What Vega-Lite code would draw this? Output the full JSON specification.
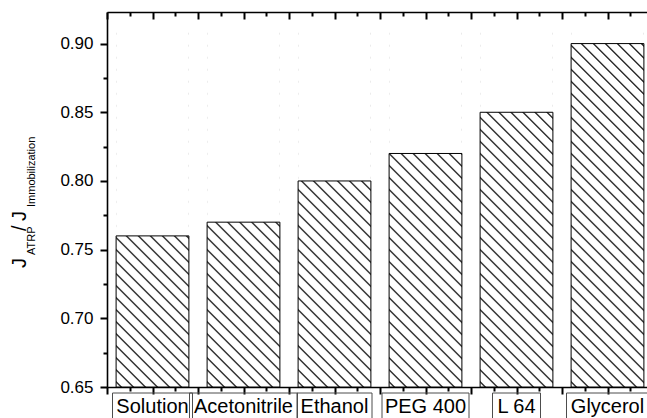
{
  "$schema": "https://vega.github.io/schema/vega-lite/v6.json",
  "autosize": {"type": "none"},
  "width": 540,
  "height": 375,
  "padding": {"left": 107, "top": 12, "right": 0, "bottom": 31},
  "background": "white",
  "config": {"view": {"stroke": null}, "font": "Liberation Sans", "axis": {"ticks": true, "tickColor": "#000", "tickWidth": 2, "tickOpacity": 1, "domainColor": "#000", "domainWidth": 1.6, "zindex": 1, "grid": false, "title": null}},
  "data": {"values": [
    {"solvent": "Solution", "value": 0.76},
    {"solvent": "Acetonitrile", "value": 0.77},
    {"solvent": "Ethanol", "value": 0.80},
    {"solvent": "PEG 400", "value": 0.82},
    {"solvent": "L 64", "value": 0.85},
    {"solvent": "Glycerol", "value": 0.90}
  ]},
  "layer": [
    {
      "layer": [
        {
          "mark": {"type": "bar", "strokeWidth": 0, "fill": {"gradient": "linear", "x1": 0, "y1": 1, "x2": 0.23077, "y2": -0.15385, "stops": [
            {"offset": 0.0081, "color": "#fff"}, {"offset": 0.012, "color": "#000"}, {"offset": 0.0159, "color": "#fff"},
            {"offset": 0.0356, "color": "#fff"}, {"offset": 0.0395, "color": "#000"}, {"offset": 0.0434, "color": "#fff"},
            {"offset": 0.0631, "color": "#fff"}, {"offset": 0.067, "color": "#000"}, {"offset": 0.0709, "color": "#fff"},
            {"offset": 0.0906, "color": "#fff"}, {"offset": 0.0945, "color": "#000"}, {"offset": 0.0984, "color": "#fff"},
            {"offset": 0.1181, "color": "#fff"}, {"offset": 0.122, "color": "#000"}, {"offset": 0.1259, "color": "#fff"},
            {"offset": 0.1456, "color": "#fff"}, {"offset": 0.1495, "color": "#000"}, {"offset": 0.1534, "color": "#fff"},
            {"offset": 0.1731, "color": "#fff"}, {"offset": 0.177, "color": "#000"}, {"offset": 0.1809, "color": "#fff"},
            {"offset": 0.2006, "color": "#fff"}, {"offset": 0.2045, "color": "#000"}, {"offset": 0.2084, "color": "#fff"},
            {"offset": 0.2281, "color": "#fff"}, {"offset": 0.232, "color": "#000"}, {"offset": 0.2359, "color": "#fff"},
            {"offset": 0.2556, "color": "#fff"}, {"offset": 0.2595, "color": "#000"}, {"offset": 0.2634, "color": "#fff"},
            {"offset": 0.2831, "color": "#fff"}, {"offset": 0.287, "color": "#000"}, {"offset": 0.2909, "color": "#fff"},
            {"offset": 0.3106, "color": "#fff"}, {"offset": 0.3145, "color": "#000"}, {"offset": 0.3184, "color": "#fff"},
            {"offset": 0.3381, "color": "#fff"}, {"offset": 0.342, "color": "#000"}, {"offset": 0.3459, "color": "#fff"},
            {"offset": 0.3656, "color": "#fff"}, {"offset": 0.3695, "color": "#000"}, {"offset": 0.3734, "color": "#fff"},
            {"offset": 0.3931, "color": "#fff"}, {"offset": 0.397, "color": "#000"}, {"offset": 0.4009, "color": "#fff"},
            {"offset": 0.4206, "color": "#fff"}, {"offset": 0.4245, "color": "#000"}, {"offset": 0.4284, "color": "#fff"},
            {"offset": 0.4481, "color": "#fff"}, {"offset": 0.452, "color": "#000"}, {"offset": 0.4559, "color": "#fff"},
            {"offset": 0.4756, "color": "#fff"}, {"offset": 0.4795, "color": "#000"}, {"offset": 0.4834, "color": "#fff"},
            {"offset": 0.5031, "color": "#fff"}, {"offset": 0.507, "color": "#000"}, {"offset": 0.5109, "color": "#fff"},
            {"offset": 0.5306, "color": "#fff"}, {"offset": 0.5345, "color": "#000"}, {"offset": 0.5384, "color": "#fff"},
            {"offset": 0.5581, "color": "#fff"}, {"offset": 0.562, "color": "#000"}, {"offset": 0.5659, "color": "#fff"},
            {"offset": 0.5856, "color": "#fff"}, {"offset": 0.5895, "color": "#000"}, {"offset": 0.5934, "color": "#fff"},
            {"offset": 0.6131, "color": "#fff"}, {"offset": 0.617, "color": "#000"}, {"offset": 0.6209, "color": "#fff"},
            {"offset": 0.6406, "color": "#fff"}, {"offset": 0.6445, "color": "#000"}, {"offset": 0.6484, "color": "#fff"},
            {"offset": 0.6681, "color": "#fff"}, {"offset": 0.672, "color": "#000"}, {"offset": 0.6759, "color": "#fff"},
            {"offset": 0.6956, "color": "#fff"}, {"offset": 0.6995, "color": "#000"}, {"offset": 0.7034, "color": "#fff"},
            {"offset": 0.7231, "color": "#fff"}, {"offset": 0.727, "color": "#000"}, {"offset": 0.7309, "color": "#fff"},
            {"offset": 0.7506, "color": "#fff"}, {"offset": 0.7545, "color": "#000"}, {"offset": 0.7584, "color": "#fff"},
            {"offset": 0.7781, "color": "#fff"}, {"offset": 0.782, "color": "#000"}, {"offset": 0.7859, "color": "#fff"},
            {"offset": 0.8056, "color": "#fff"}, {"offset": 0.8095, "color": "#000"}, {"offset": 0.8134, "color": "#fff"},
            {"offset": 0.8331, "color": "#fff"}, {"offset": 0.837, "color": "#000"}, {"offset": 0.8409, "color": "#fff"},
            {"offset": 0.8606, "color": "#fff"}, {"offset": 0.8645, "color": "#000"}, {"offset": 0.8684, "color": "#fff"},
            {"offset": 0.8881, "color": "#fff"}, {"offset": 0.892, "color": "#000"}, {"offset": 0.8959, "color": "#fff"},
            {"offset": 0.9156, "color": "#fff"}, {"offset": 0.9195, "color": "#000"}, {"offset": 0.9234, "color": "#fff"},
            {"offset": 0.9431, "color": "#fff"}, {"offset": 0.947, "color": "#000"}, {"offset": 0.9509, "color": "#fff"},
            {"offset": 0.9706, "color": "#fff"}, {"offset": 0.9745, "color": "#000"}, {"offset": 0.9784, "color": "#fff"}
          ]}},
          "encoding": {
            "x": {"field": "solvent", "type": "nominal", "sort": null, "scale": {"type": "band", "paddingInner": 0.2, "paddingOuter": 0.1, "range": [0, 546]}, "axis": null},
            "y": {"datum": 0.915, "type": "quantitative", "title": null, "scale": {"domain": [0.65, 0.923], "nice": false, "zero": false}},
            "y2": {"datum": 0.65}
          }
        },
        {
          "mark": {"type": "bar", "fill": "white", "strokeWidth": 0},
          "encoding": {
            "x": {"field": "solvent", "type": "nominal", "sort": null, "scale": {"type": "band", "paddingInner": 0.2, "paddingOuter": 0.1, "range": [0, 546]}, "axis": null},
            "y": {"field": "value", "type": "quantitative", "title": null},
            "y2": {"datum": 0.915}
          }
        },
        {
          "mark": {"type": "bar", "fill": "white", "fillOpacity": 0, "stroke": "#000", "strokeWidth": 1},
          "encoding": {
            "x": {"field": "solvent", "type": "nominal", "sort": null, "scale": {"type": "band", "paddingInner": 0.2, "paddingOuter": 0.1, "range": [0, 546]}, "axis": null},
            "y": {"field": "value", "type": "quantitative", "title": null,
              "axis": {"orient": "left", "title": null,
                "values": [0.65, 0.7, 0.75, 0.8, 0.85, 0.9],
                "format": ".2f",
                "tickSize": 7,
                "labelFontSize": 17, "labelFont": "Liberation Sans", "labelColor": "#000", "labelPadding": 7}},
            "y2": {"datum": 0.65}
          }
        },
        {
          "transform": [
            {"calculate": "11*length(datum.solvent) - 6*(length(datum.solvent) - length(replace(datum.solvent, regexp('[ilt ]', 'g'), ''))) - 4*(length(datum.solvent) - length(replace(datum.solvent, regexp('r', 'g'), ''))) + 3*(length(datum.solvent) - length(replace(datum.solvent, regexp('[A-Z]', 'g'), ''))) + 7", "as": "boxw"}
          ],
          "mark": {"type": "bar", "orient": "vertical", "y": {"expr": "height + 6"}, "y2": {"expr": "height + 45"}, "fill": "white", "fillOpacity": 0, "stroke": "#4d4d4d", "strokeWidth": 1},
          "encoding": {
            "x": {"field": "solvent", "type": "nominal", "sort": null, "scale": {"type": "band", "paddingInner": 0.2, "paddingOuter": 0.1, "range": [0, 546]}, "axis": null},
            "size": {"field": "boxw", "type": "quantitative", "scale": null, "legend": null}
          }
        },
        {
          "mark": {"type": "text", "y": {"expr": "height + 26"}, "fontSize": 20, "font": "Liberation Sans", "align": "center", "baseline": "alphabetic", "color": "#000"},
          "encoding": {
            "x": {"field": "solvent", "type": "nominal", "sort": null, "scale": {"type": "band", "paddingInner": 0.2, "paddingOuter": 0.1, "range": [0, 546]}, "axis": null},
            "text": {"field": "solvent"}
          }
        }
      ]
    },
    {
      "mark": {"type": "rule", "opacity": 0},
      "encoding": {
        "y": {"datum": 0.7, "type": "quantitative", "title": null,
          "scale": {"domain": [0.65, 0.923], "nice": false, "zero": false},
          "axis": {"orient": "left", "title": null, "labels": false, "domain": false,
            "values": [0.675, 0.725, 0.775, 0.825, 0.875],
            "tickSize": 4}}
      }
    },
    {
      "mark": {"type": "rule", "opacity": 0},
      "encoding": {
        "x": {"datum": 1, "type": "quantitative", "title": null,
          "scale": {"domain": [0.5, 6.5], "nice": false, "zero": false, "range": [0, 546]},
          "axis": {"orient": "bottom", "title": null, "labels": false,
            "values": [0.5, 1, 1.5, 2, 2.5, 3, 3.5, 4, 4.5, 5, 5.5, 6, 6.5],
            "tickSize": 7}}
      }
    },
    {
      "mark": {"type": "rule", "opacity": 0},
      "encoding": {
        "x": {"datum": 1, "type": "quantitative", "title": null,
          "scale": {"domain": [0.5, 6.5], "nice": false, "zero": false, "range": [0, 546]},
          "axis": {"orient": "bottom", "title": null, "labels": false, "domain": false,
            "values": [0.75, 1.25, 1.75, 2.25, 2.75, 3.25, 3.75, 4.25, 4.75, 5.25, 5.75, 6.25],
            "tickSize": 4}}
      }
    },
    {
      "mark": {"type": "rule", "opacity": 0},
      "encoding": {
        "x": {"datum": 1, "type": "quantitative", "title": null,
          "scale": {"domain": [0.5, 6.5], "nice": false, "zero": false, "range": [0, 546]},
          "axis": {"orient": "top", "title": null, "labels": false,
            "values": [0.5, 1, 1.5, 2, 2.5, 3, 3.5, 4, 4.5, 5, 5.5, 6, 6.5],
            "tickSize": -7}}
      }
    },
    {
      "mark": {"type": "rule", "opacity": 0},
      "encoding": {
        "x": {"datum": 1, "type": "quantitative", "title": null,
          "scale": {"domain": [0.5, 6.5], "nice": false, "zero": false, "range": [0, 546]},
          "axis": {"orient": "top", "title": null, "labels": false, "domain": false,
            "values": [0.75, 1.25, 1.75, 2.25, 2.75, 3.25, 3.75, 4.25, 4.75, 5.25, 5.75, 6.25],
            "tickSize": -4}}
      }
    },
    {
      "data": {"values": [{}]},
      "mark": {"type": "text", "text": "J", "x": -81, "y": 256, "angle": 270, "align": "left", "baseline": "alphabetic", "fontSize": 20, "font": "Liberation Sans", "color": "#000"},
      "encoding": {}
    },
    {
      "data": {"values": [{}]},
      "mark": {"type": "text", "text": "ATRP", "x": -72.5, "y": 243, "angle": 270, "align": "left", "baseline": "alphabetic", "fontSize": 11, "font": "Liberation Sans", "color": "#000"},
      "encoding": {}
    },
    {
      "data": {"values": [{}]},
      "mark": {"type": "text", "text": "/", "x": -81, "y": 219, "angle": 270, "align": "left", "baseline": "alphabetic", "fontSize": 20, "font": "Liberation Sans", "color": "#000"},
      "encoding": {}
    },
    {
      "data": {"values": [{}]},
      "mark": {"type": "text", "text": "J", "x": -81, "y": 209, "angle": 270, "align": "left", "baseline": "alphabetic", "fontSize": 20, "font": "Liberation Sans", "color": "#000"},
      "encoding": {}
    },
    {
      "data": {"values": [{}]},
      "mark": {"type": "text", "text": "Immobilization", "x": -72.5, "y": 195, "angle": 270, "align": "left", "baseline": "alphabetic", "fontSize": 11, "font": "Liberation Sans", "color": "#000"},
      "encoding": {}
    }
  ],
  "resolve": {"scale": {"x": "independent", "y": "independent"}, "axis": {"x": "independent", "y": "independent"}}
}
